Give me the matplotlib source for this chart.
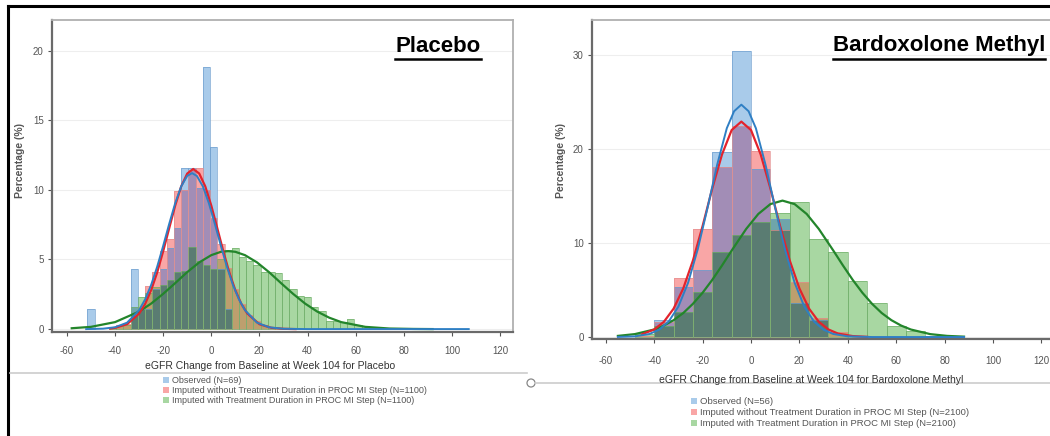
import numpy as np
import matplotlib
matplotlib.use('Agg')
import matplotlib.pyplot as plt
from matplotlib.lines import Line2D
from matplotlib.patches import Rectangle, Ellipse

# ---------------- data ----------------
# Placebo, bins of width 3 (bin centres)
pl_obs_x = [-50, -32, -29, -26, -23, -20, -17, -14, -11, -8, -5, -2, 1, 4, 7]
pl_obs_n = [1, 3, 1, 1, 2, 3, 4, 5, 8, 8, 7, 13, 9, 3, 1]          # of N=69
pl_imp_x = [-41, -38, -35, -32, -29, -26, -23, -20, -17, -14, -11, -8, -5, -2,
            1, 4, 7, 10, 13, 16, 19, 22, 25]
pl_imp_y = [0.1, 0.3, 0.4, 1.0, 1.6, 3.1, 4.1, 5.6, 6.5, 9.9, 10.0, 11.4, 11.6, 10.0,
            8.0, 6.1, 4.4, 2.9, 1.8, 1.0, 0.6, 0.3, 0.1]
pl_dur_x = [-41, -38, -35, -32, -29, -26, -23, -20, -17, -14, -11, -8, -5, -2, 1, 4,
            7, 10, 13, 16, 19, 22, 25, 28, 31, 34, 37, 40, 43, 46, 49, 52, 55, 58,
            61, 64, 67, 70]
pl_dur_y = [0.1, 0.2, 0.3, 1.6, 2.3, 2.6, 3.0, 3.2, 3.5, 4.1, 4.2, 5.9, 4.9, 4.6, 4.3, 5.0,
            5.7, 5.8, 5.2, 4.9, 4.6, 4.1, 4.1, 4.0, 3.5, 2.9, 2.4, 2.3, 1.6, 1.3, 0.6, 0.6, 0.5, 0.7,
            0.3, 0.2, 0.1, 0.1]

# Placebo fitted normal curves
pl_obs_fx = [-52, -45, -40, -35, -30, -27.5, -25, -22.5, -20, -17.5, -15, -12.5, -10, -8,
             -6, -3.5, -1, 1.5, 4, 6.5, 9, 11.5, 14, 19, 24, 30, 40, 60, 107]
pl_obs_fy = [0.0, 0.03, 0.13, 0.46, 1.36, 2.13, 3.17, 4.47, 5.97, 7.55, 9.04, 10.25, 11.0, 11.2,
             11.0, 10.25, 9.04, 7.55, 5.97, 4.47, 3.17, 2.13, 1.36, 0.46, 0.13, 0.02, 0.0, 0.0, 0.0]
pl_imp_fx = [-42, -40, -35, -30, -27.5, -25, -22.5, -20, -17.5, -15, -12.5, -10, -7.5,
             -5, -2.5, 0, 2.5, 5, 7.5, 10, 12.5, 15, 20, 25, 30, 35]
pl_imp_fy = [0.04, 0.09, 0.35, 1.11, 1.81, 2.79, 4.06, 5.59, 7.24, 8.87, 10.25, 11.17, 11.5,
             11.17, 10.25, 8.87, 7.24, 5.59, 4.06, 2.79, 1.81, 1.11, 0.35, 0.09, 0.02, 0.0]
pl_dur_fx = [-58, -50, -40, -30, -25, -20, -15, -10, -5, 0, 4, 7, 10, 14, 19, 24, 29, 34,
             39, 44, 49, 54, 64, 74, 84, 92]
pl_dur_fy = [0.06, 0.16, 0.50, 1.26, 1.83, 2.53, 3.30, 4.09, 4.79, 5.31, 5.55, 5.6, 5.55, 5.31,
             4.79, 4.09, 3.30, 2.53, 1.83, 1.26, 0.82, 0.50, 0.16, 0.04, 0.01, 0.0]

# Bardoxolone methyl, bins of width 8 (bin centres)
bd_obs_x = [-36, -28, -20, -12, -4, 4, 12, 20, 28]
bd_obs_n = [1, 3, 4, 11, 17, 10, 7, 2, 1]                            # of N=56
bd_imp_x = [-44, -36, -28, -20, -12, -4, 4, 12, 20, 28, 36]
bd_imp_y = [0.1, 1.6, 6.3, 11.5, 18.1, 22.4, 19.8, 11.4, 5.9, 2.0, 0.5]
bd_dur_x = [-44, -36, -28, -20, -12, -4, 4, 12, 20, 28, 36, 44, 52, 60, 68, 76]
bd_dur_y = [0.3, 1.2, 2.7, 4.8, 9.0, 10.8, 12.2, 13.2, 14.4, 10.4, 9.0, 6.0, 3.6, 1.2, 0.6, 0.1]

bd_obs_fx = [-55, -48, -42, -38, -34, -30, -26, -22, -18, -14, -10, -7, -4, -1, 2, 6, 10,
             14, 18, 22, 26, 30, 34, 40, 50, 88]
bd_obs_fy = [0.01, 0.07, 0.32, 0.77, 1.65, 3.24, 5.77, 9.34, 13.7, 18.3, 22.2, 24.0, 24.7,
             24.0, 22.2, 18.3, 13.7, 9.34, 5.77, 3.24, 1.65, 0.77, 0.32, 0.07, 0.0, 0.0]
bd_imp_fx = [-45, -40, -36, -32, -28, -24, -20, -16, -12, -8, -4, 0, 4, 8, 12, 16, 20, 24,
             28, 32, 36, 42, 48]
bd_imp_fy = [0.30, 0.80, 1.62, 3.01, 5.16, 8.13, 11.8, 15.8, 19.4, 22.0, 22.9, 22.0, 19.4,
             15.8, 11.8, 8.13, 5.16, 3.01, 1.62, 0.80, 0.36, 0.10, 0.02]
bd_dur_fx = [-55, -48, -40, -36, -32, -28, -24, -20, -16, -12, -8, -2, 3, 8, 13, 18, 23, 28,
             34, 38, 42, 46, 50, 54, 58, 62, 66, 74, 81, 88]
bd_dur_fy = [0.12, 0.31, 0.80, 1.22, 1.79, 2.55, 3.53, 4.71, 6.08, 7.6, 9.19, 11.49, 13.08,
             14.13, 14.5, 14.13, 13.08, 11.49, 9.19, 7.6, 6.08, 4.71, 3.53, 2.55, 1.79, 1.22,
             0.80, 0.31, 0.12, 0.04]

legend_pl = ['Observed (N=69)',
             'Imputed without Treatment Duration in PROC MI Step (N=1100)',
             'Imputed with Treatment Duration in PROC MI Step (N=1100)']
legend_bd = ['Observed (N=56)',
             'Imputed without Treatment Duration in PROC MI Step (N=2100)',
             'Imputed with Treatment Duration in PROC MI Step (N=2100)']
x_ticks = [-60, -40, -20, 0, 20, 40, 60, 80, 100, 120]

# ---------------- style ----------------
plt.rcParams['font.family'] = ['Liberation Sans Narrow', 'Liberation Sans', 'DejaVu Sans']
plt.rcParams['axes.unicode_minus'] = False
W, H = 1050, 436
l_obs, l_imp, l_dur = '#2f7fc4', '#e3232c', '#23852b'
e_obs, e_imp, e_dur = '#6f9fcf', '#e58f8f', '#72b06c'
# colour of each overlap (observed, imputed w/o, imputed with)
combo = {(1, 0, 0): '#a9cbea', (0, 1, 0): '#f9a6a6', (0, 0, 1): '#a8d7a2',
         (1, 1, 0): '#a28db6', (1, 0, 1): '#6fa5aa', (0, 1, 1): '#bd9f6e',
         (1, 1, 1): '#5a7c72'}
leg_cols = ['#a9cbea', '#f9a6a6', '#a8d7a2']
grey = '#555555'

fig = plt.figure(figsize=(W / 100.0, H / 100.0), dpi=100, facecolor='white')


def fx(x):
    return x / float(W)


def fy(y):
    return 1 - y / float(H)


def overlap_bars(ax, width, series):
    # split every bin into the bands where 1, 2 or 3 histograms overlap
    looks = [dict(zip(x, y)) for x, y in series]
    centres = sorted(set().union(*[d.keys() for d in looks]))
    bx, bh, bb, bc = [], [], [], []
    for c in centres:
        hs = [d.get(c, 0.0) for d in looks]
        lev = sorted(set([0.0] + hs))
        for lo, hi in zip(lev[:-1], lev[1:]):
            key = tuple(int(h >= hi - 1e-9) for h in hs)
            bx.append(c)
            bh.append(hi - lo)
            bb.append(lo)
            bc.append(combo[key])
    ax.bar(bx, bh, bottom=bb, width=width, color=bc, linewidth=0, zorder=2)
    for (x, y), ec in zip(series, [e_obs, e_imp, e_dur]):
        ax.bar(x, y, width=width, fill=False, edgecolor=ec, linewidth=0.6,
               alpha=0.8, zorder=3)


def panel(rect, xlim, ylim, yticks, width, xpad,
          obs_x, obs_n, n_obs, imp_x, imp_y, dur_x, dur_y,
          obs_f, imp_f, dur_f):
    ax = fig.add_axes(rect)
    obs_pct = list(np.array(obs_n) * 100.0 / n_obs)
    overlap_bars(ax, width, [(obs_x, obs_pct), (imp_x, imp_y), (dur_x, dur_y)])
    ax.plot(dur_f[0], dur_f[1], color=l_dur, linewidth=1.6, zorder=5)
    ax.plot(imp_f[0], imp_f[1], color=l_imp, linewidth=1.6, zorder=6)
    ax.plot(obs_f[0], obs_f[1], color=l_obs, linewidth=1.4, zorder=7)
    ax.set_xlim(xlim)
    ax.set_ylim(ylim)
    ax.set_xticks(x_ticks)
    ax.set_yticks(yticks)
    ax.yaxis.grid(True, color='#eeeeee', linewidth=0.8, zorder=0)
    ax.set_axisbelow(True)
    for s in ['left', 'bottom']:
        ax.spines[s].set_color('#6a6a6a')
        ax.spines[s].set_linewidth(1.6)
    for s in ['top', 'right']:
        ax.spines[s].set_color('#b0b0b0')
        ax.spines[s].set_linewidth(1.3)
    ax.tick_params(axis='both', labelsize=7, colors=grey, length=3, width=0.8)
    ax.tick_params(axis='x', pad=xpad)
    ax.tick_params(axis='y', pad=3)
    return ax


ax1 = panel([fx(52), fy(332), fx(513 - 52), (332 - 20) / float(H)],
            (-66.2, 125.4), (-0.21, 22.2), [0, 5, 10, 15, 20], 3, 7,
            pl_obs_x, pl_obs_n, 69, pl_imp_x, pl_imp_y, pl_dur_x, pl_dur_y,
            (pl_obs_fx, pl_obs_fy), (pl_imp_fx, pl_imp_fy), (pl_dur_fx, pl_dur_fy))
ax2 = panel([fx(592), fy(339), fx(1056 - 592), (339 - 20) / float(H)],
            (-65.7, 126.0), (-0.21, 33.7), [0, 10, 20, 30], 8, 9,
            bd_obs_x, bd_obs_n, 56, bd_imp_x, bd_imp_y, bd_dur_x, bd_dur_y,
            (bd_obs_fx, bd_obs_fy), (bd_imp_fx, bd_imp_fy), (bd_dur_fx, bd_dur_fy))

# y labels
fig.text(fx(20), fy(160), 'Percentage (%)', rotation=90, ha='center', va='center',
         fontsize=7.5, fontweight='bold', color=grey)
fig.text(fx(561), fy(160), 'Percentage (%)', rotation=90, ha='center', va='center',
         fontsize=7.5, fontweight='bold', color=grey)

# x labels
fig.text(fx(270), fy(366), 'eGFR Change from Baseline at Week 104 for Placebo',
         ha='center', va='center', fontsize=7.5, color='#333333')
fig.text(fx(811), fy(380), 'eGFR Change from Baseline at Week 104 for Bardoxolone Methyl',
         ha='center', va='center', fontsize=7.5, color='#333333')

# panel titles, bold and underlined
titles = [fig.text(fx(438), fy(46), 'Placebo', ha='center', va='center',
                   fontsize=16, fontweight='bold', color='black'),
          fig.text(fx(939), fy(46), 'Bardoxolone Methyl', ha='center', va='center',
                   fontsize=16, fontweight='bold', color='black')]
fig.canvas.draw()
inv = fig.transFigure.inverted()
for t in titles:
    bb = t.get_window_extent().transformed(inv)
    fig.add_artist(Line2D([bb.x0, bb.x1], [bb.y0 - 0.005, bb.y0 - 0.005],
                          transform=fig.transFigure, color='black', linewidth=1.8))


# legends
def legend(x0, ys, labels, size):
    for y, lab, col in zip(ys, labels, leg_cols):
        fig.patches.append(Rectangle((fx(x0), fy(y + 3)), 6.0 / W, 6.0 / H,
                                     transform=fig.transFigure, facecolor=col,
                                     edgecolor='none'))
        fig.text(fx(x0 + 9), fy(y), lab, ha='left', va='center', fontsize=size, color=grey)


legend(163, [380, 390, 400], legend_pl, 6.5)
legend(691, [401, 412, 423], legend_bd, 6.8)

# page furniture: table border, separator lines and handle
fig.add_artist(Line2D([fx(8), 1], [fy(6), fy(6)], transform=fig.transFigure,
                      color='black', linewidth=2.2))
fig.add_artist(Line2D([fx(8), fx(8)], [fy(6), 0], transform=fig.transFigure,
                      color='black', linewidth=2.2))
fig.add_artist(Line2D([fx(10), fx(527)], [fy(373), fy(373)], transform=fig.transFigure,
                      color='#cccccc', linewidth=1.2))
fig.add_artist(Line2D([fx(535), 1], [fy(383), fy(383)], transform=fig.transFigure,
                      color='#cccccc', linewidth=1.2))
fig.patches.append(Ellipse((fx(531), fy(383)), 8.0 / W, 8.0 / H,
                           transform=fig.transFigure, facecolor='white',
                           edgecolor='#888888', linewidth=0.9))

fig.savefig('out.png', dpi=100, facecolor='white')
